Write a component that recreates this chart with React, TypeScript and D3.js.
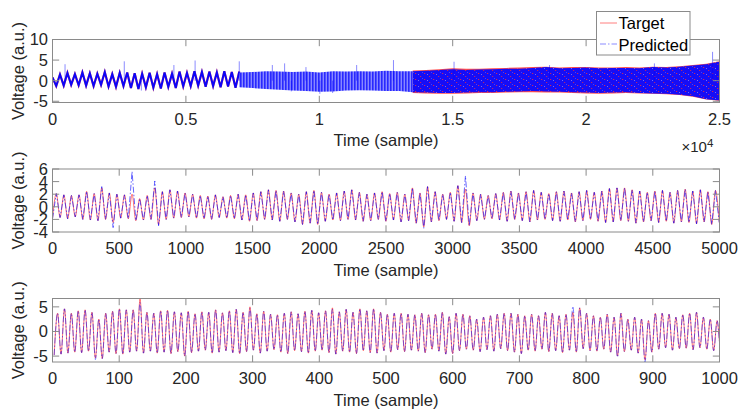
import React from "react";
import * as d3 from "d3";

// ---- data ----
// bottom panel (0-1000 samples): alternating trough / peak every half cycle
const bottomStart = 2.5;
const bottomHalf = 5.15;
const bottomTroughs = [
  -4.8, -4.6, -4.4, -4.2, -4.3, -4.0, -5.4, -5.5, -4.2, -4.5, -4.6, -4.2, -4.0, -4.4, -4.0, -4.4,
  -4.2, -4.5, -4.1, -5.0, -4.3, -4.0, -3.8, -4.4, -4.2, -3.9, -4.3, -4.5, -4.1, -3.8, -4.4, -4.0,
  -3.7, -4.2, -4.5, -3.9, -4.1, -4.4, -4.0, -3.8, -4.3, -4.6, -4.0, -4.2, -4.5, -3.9, -4.3,
  -4.4, -3.9, -4.2, -3.7, -4.1, -3.8, -4.0, -4.3, -3.6, -4.0, -4.6, -4.5, -3.9, -3.6, -3.8, -4.1,
  -3.7, -4.0, -3.5, -3.9, -4.2, -4.5, -3.8, -4.0, -3.6, -4.1, -3.9, -4.3, -3.8, -4.2, -3.5, -3.9,
  -4.0, -3.6, -4.2, -5.0, -4.1, -3.8, -4.4, -5.8, -4.2, -3.6, -3.3, -3.8, -3.5, -3.4, -3.7, -3.3,
  -3.6, -3.9, -3.4,
];
const bottomPeaks = [
  3.7, 4.6, 3.7, 4.2, 4.4, 3.9, 2.5, 3.7, 4.1, 4.6, 4.4, 4.4, 6.6, 3.9, 3.7, 4.2,
  4.3, 4.0, 3.8, 4.1, 3.6, 4.0, 3.9, 4.4, 3.8, 4.2, 4.5, 3.9, 5.0, 3.6, 4.1, 3.5,
  3.4, 3.7, 4.0, 3.6, 4.1, 4.3, 3.8, 4.2, 4.8, 4.0, 4.5, 3.9, 4.6, 4.2, 4.6,
  3.9, 3.5, 3.7, 3.7, 3.5, 3.4, 3.7, 3.4, 3.5, 3.9, 3.0, 3.7, 3.5, 3.2, 2.5, 2.9,
  3.2, 3.5, 3.7, 3.7, 3.5, 3.2, 3.5, 3.2, 3.9, 3.7, 3.2, 3.5, 3.9, 4.8, 3.7, 3.2,
  2.9, 3.5, 2.9, 3.7, 2.5, 2.9, 2.5, 2.2, 3.7, 3.7, 3.5, 2.9, 3.4, 3.7, 3.9, 2.9,
  2.5, 2.2, 2.4,
];
// [index, value] where Predicted departs from Target
const bottomPredPeakEdits: [number, number][] = [[12, 5.9], [28, 4.7], [75, 5.1], [40, 4.5]];
const bottomPredTroughEdits: [number, number][] = [[6, -5.7], [86, -6.2], [82, -5.2]];

// middle panel (0-5000 samples)
const middleStart = 0;
const middleHalf = 28.4;
const middleTroughs = [
  -1.9, -1.7, -1.9, -1.6, -2.0, -2.1, -2.2, -2.0, -2.5, -1.8, -1.9, -2.2, -2.1, -2.0, -2.8, -2.0,
  -1.8, -1.7, -1.6, -1.8, -1.9, -2.0, -1.7, -1.8, -1.9, -2.1, -2.3, -2.2, -2.0, -2.1, -2.3, -2.0,
  -2.4, -2.8, -2.6, -2.8, -2.3, -2.1, -2.2, -2.0, -2.1, -2.3, -2.2, -2.0, -2.3, -2.1, -2.4, -2.2,
  -2.6, -3.2, -2.4, -2.2, -2.0, -2.3, -2.5, -3.0, -2.2, -2.0, -1.9, -2.1, -2.3, -2.0, -2.2, -2.4,
  -2.1, -2.0, -2.2, -2.3, -2.1, -2.4, -2.2, -2.0, -2.3, -2.5, -2.4, -2.2, -2.3, -2.6, -2.4, -2.2,
  -2.5, -2.3, -2.6, -2.4, -2.5, -2.7, -2.4, -2.8, -2.5,
];
const middlePeaks = [
  2.1, 1.9, 1.8, 1.9, 2.45, 2.1, 3.0, 2.2, 2.0, 1.9, 2.0, 1.3, 1.8, 3.0, 2.4, 2.7,
  2.5, 2.2, 2.0, 1.8, 1.7, 1.9, 1.6, 1.8, 2.0, 1.9, 2.2, 2.4, 2.7, 2.6, 2.5, 2.2,
  2.0, 2.4, 2.6, 2.3, 2.0, 2.2, 2.5, 2.7, 2.3, 2.0, 2.2, 2.4, 2.1, 2.3, 2.0, 3.0,
  2.2, 3.2, 2.4, 2.0, 2.3, 3.35, 2.8, 2.2, 2.0, 1.8, 2.1, 2.3, 2.5, 2.2, 2.4, 2.6,
  2.3, 2.1, 2.4, 2.5, 2.2, 2.4, 2.6, 2.3, 2.5, 2.9, 3.0, 3.0, 2.7, 2.5, 2.3, 2.5,
  2.6, 2.3, 2.6, 2.8, 2.5, 2.7, 2.4, 2.6,
];
const middlePredPeakEdits: [number, number][] = [[10, 5.6], [13, 4.1], [54, 4.9], [6, 3.2]];
const middlePredTroughEdits: [number, number][] = [[8, -3.3], [49, -3.4], [14, -3.0]];

// top panel (0-25000 samples): clear oscillation up to 7000 ...
const topHalf = 140;
const topTarget = [
  0.8, -1.3, 1.5, -1.2, 1.9, -1.0, 1.6, -1.1, 2.0, -1.2, 1.8, -1.3, 1.7, -1.0, 2.1, -1.4,
  1.6, -1.5, 1.9, -1.3, 2.0, -1.8, 1.8, -2.0, 1.7, -1.6, 1.9, -1.7, 1.6, -1.9, 2.0, -1.5,
  1.7, -1.8, 2.2, -1.4, 1.9, -1.3, 2.3, -1.2, 2.1, -1.5, 2.2, -1.3, 2.0, -1.6, 2.3, -1.4,
  2.1, -1.7, 2.2,
];
// ... then a dense band, given as envelopes every 500 samples from 7000
const bandStart = 7000;
const bandStep = 500;
const bandPredUpper = [
  2.0, 2.1, 2.3, 2.2, 2.1, 2.2, 2.0, 2.3, 2.2, 2.3, 2.2, 2.4, 2.3, 2.3, 2.4, 2.6, 2.8, 2.6, 2.7,
  2.8, 2.9, 2.9, 3.1, 3.3, 3.0, 3.1, 3.2, 3.0, 3.1, 3.1, 3.0, 3.3, 3.2, 3.4, 3.7, 4.0, 4.6,
];
const bandPredLower = [
  -1.6, -1.8, -2.0, -2.2, -2.4, -2.5, -2.7, -2.6, -2.4, -2.3, -2.4, -2.5, -2.5, -2.8, -2.9, -3.0,
  -3.0, -2.9, -2.8, -2.8, -2.7, -2.6, -2.5, -2.6, -2.7, -2.8, -2.9, -3.0, -2.9, -2.8, -3.0, -3.1,
  -3.2, -3.4, -3.8, -4.5, -4.8,
];
const bandTargetUpper = [
  1.9, 2.0, 2.2, 2.2, 2.0, 2.1, 2.0, 2.2, 2.1, 2.2, 2.2, 2.3, 2.3, 2.5, 2.6, 2.8, 3.0, 2.9, 2.9,
  3.0, 3.1, 3.2, 3.3, 3.4, 3.2, 3.3, 3.3, 3.2, 3.2, 3.3, 3.2, 3.4, 3.3, 3.5, 3.8, 4.1, 4.7,
];
const bandTargetLower = [
  -1.5, -1.7, -1.9, -2.1, -2.3, -2.4, -2.6, -2.5, -2.3, -2.2, -2.3, -2.4, -2.6, -3.0, -3.1, -3.2,
  -3.2, -3.1, -3.0, -3.0, -2.9, -2.8, -2.8, -2.9, -2.9, -3.0, -3.1, -3.2, -3.1, -3.0, -3.1, -3.2,
  -3.3, -3.5, -3.9, -4.6, -4.9,
];
// isolated spikes of the Predicted trace [sample, value]
const topSpikes: [number, number][] = [
  [470, 4.0], [2690, 4.7], [3330, -2.4], [4550, 3.8], [5345, 4.9], [7000, 4.7], [8240, 3.8],
  [8700, 4.2], [8950, -2.6], [9500, 3.3], [10020, -3.2], [10500, -3.0], [11400, 3.8],
  [12780, 5.0], [15050, 4.6], [18630, 3.8], [22560, 4.2], [24740, 7.0], [24910, 4.6],
];

const font = "'Liberation Sans', Arial, Helvetica, sans-serif";
const ink = "#262626";
const frame = "#8a8a8a";
const red = "#ff0000";
const blue = "#0000ff";
const dashDot = "6 2 1.5 2";
const LEFT = 52.5;
const RIGHT = 719.5;
const TICK = 6.7;
const FS = 16.5;

const interleave = (troughs: number[], peaks: number[]) =>
  troughs.flatMap((t, i) => (i < peaks.length ? [t, peaks[i]] : [t]));
const withEdits = (vals: number[], edits: [number, number][]) => {
  const out = vals.slice();
  edits.forEach(([i, v]) => (out[i] = v));
  return out;
};

type PanelProps = {
  id: string;
  top: number;
  bottom: number;
  xMax: number;
  yDomain: [number, number];
  xTicks: number[];
  yTicks: number[];
  fmt: (v: number) => string;
  children: (x: d3.ScaleLinear<number, number>, y: d3.ScaleLinear<number, number>) => React.ReactNode;
};

function Panel({ id, top, bottom, xMax, yDomain, xTicks, yTicks, fmt, children }: PanelProps) {
  const x = d3.scaleLinear().domain([0, xMax]).range([LEFT, RIGHT]);
  const y = d3.scaleLinear().domain(yDomain).range([bottom, top]);
  return (
    <g>
      <defs>
        <clipPath id={id}>
          <rect x={LEFT} y={top} width={RIGHT - LEFT} height={bottom - top} />
        </clipPath>
      </defs>
      <rect x={LEFT} y={top} width={RIGHT - LEFT} height={bottom - top} fill="#fff" />
      <g clipPath={`url(#${id})`}>{children(x, y)}</g>
      <rect x={LEFT} y={top} width={RIGHT - LEFT} height={bottom - top} fill="none" stroke={frame} />
      {xTicks.map((t) => (
        <g key={"x" + t}>
          <line x1={x(t)} x2={x(t)} y1={bottom} y2={bottom - TICK} stroke={frame} />
          <line x1={x(t)} x2={x(t)} y1={top} y2={top + TICK} stroke={frame} />
          <text x={x(t)} y={bottom + 22} textAnchor="middle" fontSize={FS} fill={ink}>
            {fmt(t)}
          </text>
        </g>
      ))}
      {yTicks.map((t) => (
        <g key={"y" + t}>
          <line x1={LEFT} x2={LEFT + TICK} y1={y(t)} y2={y(t)} stroke={frame} />
          <line x1={RIGHT} x2={RIGHT - TICK} y1={y(t)} y2={y(t)} stroke={frame} />
          <text x={48} y={y(t)} dy="0.36em" textAnchor="end" fontSize={FS} fill={ink}>
            {t}
          </text>
        </g>
      ))}
      <text
        transform={`translate(24,${(top + bottom) / 2}) rotate(-90)`}
        textAnchor="middle"
        fontSize={FS}
        fill={ink}
      >
        Voltage (a.u.)
      </text>
      <text x={(LEFT + RIGHT) / 2} y={bottom + 43.5} textAnchor="middle" fontSize={FS} fill={ink}>
        Time (sample)
      </text>
    </g>
  );
}

function wave(
  x: d3.ScaleLinear<number, number>,
  y: d3.ScaleLinear<number, number>,
  start: number,
  half: number,
  curve: d3.CurveFactory
) {
  return d3
    .line<number>()
    .x((_, i) => x(start + i * half))
    .y((d) => y(d))
    .curve(curve);
}

export default function App() {
  const bottomTarget = interleave(bottomTroughs, bottomPeaks);
  const bottomPred = interleave(
    withEdits(bottomTroughs, bottomPredTroughEdits),
    withEdits(bottomPeaks, bottomPredPeakEdits)
  );
  const middleTarget = interleave(middleTroughs, middlePeaks);
  const middlePred = interleave(
    withEdits(middleTroughs, middlePredTroughEdits),
    withEdits(middlePeaks, middlePredPeakEdits)
  );

  return (
    <svg
      width={738}
      height={410}
      style={{ position: "fixed", left: 0, top: 0, background: "#fff" }}
      fontFamily={font}
    >
      <defs>
        {/* dense blue band with red target showing through the dash gaps */}
        <pattern id="speckle" width={9} height={6} patternUnits="userSpaceOnUse">
          <rect width={9} height={6} fill="#0a0aff" />
          <rect x={1} y={1} width={1.2} height={1} fill="#ff2a2a" opacity={0.8} />
          <rect x={6} y={4} width={1.2} height={1} fill="#ff2a2a" opacity={0.7} />
          <rect x={4} y={2} width={1} height={1} fill="#6a6aff" />
          <rect x={8} y={0} width={1} height={1} fill="#4040ff" />
        </pattern>
        {/* looser oscillation between 0.7e4 and 1.35e4 */}
        <pattern id="stripes" width={3} height={5} patternUnits="userSpaceOnUse">
          <rect width={3} height={5} fill="#7b7bff" />
          <rect width={1.6} height={5} fill="#1010ff" />
        </pattern>
      </defs>
      <rect width={738} height={410} fill="#fff" />

      <Panel
        id="c-top"
        top={39.5}
        bottom={102.5}
        xMax={25000}
        yDomain={[-5.3, 10]}
        xTicks={d3.range(0, 25001, 5000)}
        yTicks={[-5, 0, 5, 10]}
        fmt={(v) => String(v / 1e4)}
      >
        {(x, y) => {
          const band = (up: number[], lo: number[], from: number, to: number) =>
            d3
              .area<number>()
              .x((_, i) => x(bandStart + (from + i) * bandStep))
              .y0((_, i) => y(lo[from + i]))
              .y1((d) => y(d))(up.slice(from, to + 1)) || "";
          const line = wave(x, y, 0, topHalf, d3.curveLinear);
          return (
            <>
              <path d={line(topTarget) || ""} fill="none" stroke={red} strokeWidth={2.2} opacity={0.6} />
              <path d={band(bandTargetUpper, bandTargetLower, 13, 36)} fill={red} opacity={0.7} />
              <path d={line(topTarget) || ""} fill="none" stroke={blue} strokeWidth={2} opacity={0.95} />
              <path d={band(bandPredUpper, bandPredLower, 0, 13)} fill="url(#stripes)" opacity={0.9} />
              <path d={band(bandPredUpper, bandPredLower, 13, 36)} fill="url(#speckle)" opacity={0.95} />
              {topSpikes.map(([s, v]) => (
                <line key={s} x1={x(s)} x2={x(s)} y1={y(0)} y2={y(v)} stroke={blue} opacity={0.45} />
              ))}
            </>
          );
        }}
      </Panel>

      <Panel
        id="c-mid"
        top={169}
        bottom={232}
        xMax={5000}
        yDomain={[-4, 6]}
        xTicks={d3.range(0, 5001, 500)}
        yTicks={[-4, -2, 0, 2, 4, 6]}
        fmt={String}
      >
        {(x, y) => (
          <>
            <path
              d={wave(x, y, middleStart, middleHalf, d3.curveMonotoneX)(middleTarget) || ""}
              fill="none"
              stroke={red}
              opacity={0.55}
            />
            <path
              d={wave(x, y, middleStart, middleHalf, d3.curveLinear)(middlePred) || ""}
              fill="none"
              stroke={blue}
              strokeDasharray={dashDot}
              opacity={0.6}
            />
          </>
        )}
      </Panel>

      <Panel
        id="c-bot"
        top={298.5}
        bottom={362}
        xMax={1000}
        yDomain={[-6.2, 6.7]}
        xTicks={d3.range(0, 1001, 100)}
        yTicks={[-5, 0, 5]}
        fmt={String}
      >
        {(x, y) => (
          <>
            <path
              d={wave(x, y, bottomStart, bottomHalf, d3.curveMonotoneX)(bottomTarget) || ""}
              fill="none"
              stroke={red}
              opacity={0.55}
            />
            <path
              d={wave(x, y, bottomStart, bottomHalf, d3.curveMonotoneX)(bottomPred) || ""}
              fill="none"
              stroke={blue}
              strokeDasharray={dashDot}
              opacity={0.5}
            />
          </>
        )}
      </Panel>

      {/* x10^4 exponent of the top axis */}
      <text x={681.5} y={151.5} fontSize={15} fill={ink}>
        ×10
      </text>
      <text x={707} y={146.5} fontSize={11.5} fill={ink}>
        4
      </text>

      {/* legend */}
      <g>
        <rect x={596.5} y={11.5} width={93.5} height={43.5} fill="#fff" stroke={frame} />
        <line x1={600} x2={617} y1={23} y2={23} stroke={red} opacity={0.5} />
        <text x={618.5} y={29.3} fontSize={FS} fill="#000">
          Target
        </text>
        <line x1={600} x2={617} y1={44} y2={44} stroke={blue} strokeDasharray={dashDot} opacity={0.45} />
        <text x={618.5} y={50.5} fontSize={FS} fill="#000">
          Predicted
        </text>
      </g>
    </svg>
  );
}
